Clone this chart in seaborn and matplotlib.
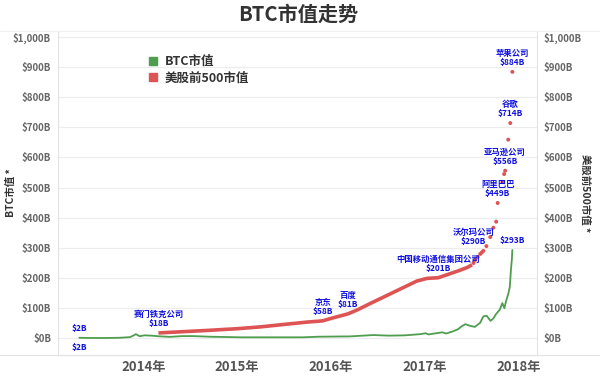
import pandas as pd
import matplotlib.pyplot as plt
import matplotlib.lines as mlines
import seaborn as sns

# BTC market cap (billion USD)
btc_dates = ['2013-04-27', '2013-06-01', '2013-08-01', '2013-10-01', '2013-11-10',
             '2013-11-25', '2013-12-03', '2013-12-18', '2014-01-05', '2014-02-01',
             '2014-03-01', '2014-04-15', '2014-06-01', '2014-07-15', '2014-09-15',
             '2014-11-15', '2015-01-15', '2015-03-15', '2015-06-15', '2015-09-15',
             '2015-11-15', '2016-01-15', '2016-03-15', '2016-06-15', '2016-08-15',
             '2016-10-15', '2016-12-15', '2017-01-05', '2017-01-15', '2017-02-15',
             '2017-03-10', '2017-03-25', '2017-04-20', '2017-05-10', '2017-05-25',
             '2017-06-08', '2017-06-25', '2017-07-15', '2017-08-05', '2017-08-17',
             '2017-08-30', '2017-09-14', '2017-09-25', '2017-10-05', '2017-10-20',
             '2017-10-30', '2017-11-07', '2017-11-14', '2017-11-22', '2017-11-28',
             '2017-12-03', '2017-12-06', '2017-12-08']
btc_values = [2, 1.3, 1.2, 2, 4,
              10, 14, 7, 10, 9,
              7, 5, 7.5, 7.5, 5.5,
              4.5, 3.5, 3.5, 3.5, 3.5,
              5.5, 6, 6.5, 11, 9,
              10, 14, 17, 13, 17,
              20, 16, 23, 30, 40,
              47, 42, 38, 52, 73,
              75, 58, 66, 80, 95,
              117, 100, 125, 147, 170,
              233, 260, 293]

# market cap of the matching US top-500 company (billion USD), dense part
spx_dates = ['2014-03-01', '2014-06-01', '2014-09-01', '2015-01-01', '2015-04-01',
             '2015-07-01', '2015-10-01', '2015-11-30', '2016-01-01', '2016-03-07',
             '2016-04-15', '2016-06-01', '2016-08-01', '2016-10-01', '2016-12-01',
             '2017-01-10', '2017-02-22', '2017-04-01', '2017-05-15', '2017-06-15',
             '2017-07-04']
spx_values = [18, 22, 26, 32, 38,
              46, 54, 58, 66, 81,
              95, 115, 140, 165, 190,
              199, 201, 212, 225, 235,
              244]

# sparse tail of the same series
tail_dates = ['2017-07-10', '2017-07-16', '2017-07-26', '2017-08-05', '2017-08-11',
              '2017-08-17', '2017-08-29', '2017-09-13', '2017-09-25', '2017-10-06',
              '2017-10-12', '2017-10-30', '2017-11-06', '2017-11-10', '2017-11-22',
              '2017-11-30', '2017-12-08']
tail_values = [250, 260, 270, 280, 285,
               290, 306, 336, 367, 387,
               449, 518, 545, 556, 659,
               714, 884]

# labelled points: (series, date, value, text, x shift in px)
labels = [
    ('btc', '2013-04-27', 2, '$2B', 0),
    ('spx', '2014-03-01', 18, '赛门铁克公司\n$18B', 0),
    ('spx', '2015-11-30', 58, '京东\n$58B', 0),
    ('spx', '2016-03-07', 81, '百度\n$81B', 0),
    ('spx', '2017-02-22', 201, '中国移动通信集团公司\n$201B', 0),
    ('spx', '2017-08-17', 290, '沃尔玛公司\n$290B', -10),
    ('btc', '2017-12-08', 293, '$293B', 0),
    ('spx', '2017-10-12', 449, '阿里巴巴\n$449B', 0),
    ('spx', '2017-11-10', 556, '亚马逊公司\n$556B', 0),
    ('spx', '2017-11-30', 714, '谷歌\n$714B', 0),
    ('spx', '2017-12-08', 884, '苹果公司\n$884B', 0),
]

year_ticks = ['2014-01-01', '2015-01-01', '2016-01-01', '2017-01-01', '2018-01-01']
year_labels = ['2014年', '2015年', '2016年', '2017年', '2018年']
y_ticks = list(range(0, 1001, 100))

GREEN = '#4f9d4f'
RED = '#de5353'
LABEL_BLUE = '#1010e0'

sns.set_theme(style="white")
plt.rcParams['font.family'] = ['Noto Sans CJK SC', 'DejaVu Sans']

btc = pd.DataFrame({'date': pd.to_datetime(btc_dates), 'value': btc_values})
spx = pd.DataFrame({'date': pd.to_datetime(spx_dates), 'value': spx_values})
tail = pd.DataFrame({'date': pd.to_datetime(tail_dates), 'value': tail_values})

fig = plt.figure(figsize=(6, 3.76), dpi=100)
ax = fig.add_axes([0.0967, 0.056, 0.7983, 0.862])

sns.lineplot(data=spx, x='date', y='value', ax=ax, color=RED, linewidth=2.6,
             solid_capstyle='butt')
sns.scatterplot(data=tail, x='date', y='value', ax=ax, color=RED, s=8,
                edgecolor='none')
sns.lineplot(data=btc, x='date', y='value', ax=ax, color=GREEN, linewidth=1.3)

ax.set_xlim(pd.Timestamp('2013-02-03'), pd.Timestamp('2018-03-14'))
ax.set_ylim(-55, 1020)
ax.set_yticks(y_ticks)
ax.set_yticklabels([f'${v:,}B' for v in y_ticks])
ax.set_xticks(pd.to_datetime(year_ticks))
ax.set_xticklabels(year_labels)
ax.set_xlabel('')
ax.set_ylabel('BTC市值 *', fontsize=7.5, fontweight='bold', color='#333333', va='center')
ax.yaxis.set_label_coords(-0.099, 0.5)
ax.grid(axis='y', color='#ececec', linewidth=0.8)
ax.grid(axis='x', visible=False)
ax.tick_params(axis='y', length=0, pad=5, labelsize=7, labelcolor='#666666')
ax.tick_params(axis='x', length=0, pad=4, labelsize=9.5, labelcolor='#555555')
for lab in ax.get_yticklabels() + ax.get_xticklabels():
    lab.set_fontweight('bold')
for side in ['left', 'right', 'bottom']:
    ax.spines[side].set_color('#e3e3e3')
    ax.spines[side].set_linewidth(0.8)
ax.spines['top'].set_visible(False)

ax2 = ax.twinx()
ax2.set_ylim(ax.get_ylim())
ax2.set_yticks(y_ticks)
ax2.set_yticklabels([f'${v:,}B' for v in y_ticks])
ax2.tick_params(axis='y', length=0, pad=5, labelsize=7, labelcolor='#666666')
for lab in ax2.get_yticklabels():
    lab.set_fontweight('bold')
ax2.set_ylabel('美股前500市值 *', fontsize=7.5, fontweight='bold', color='#333333',
               rotation=270, va='center')
ax2.yaxis.set_label_coords(1.1, 0.5)
for side in ax2.spines:
    ax2.spines[side].set_visible(False)

# point labels
for series, d, v, text, dx in labels:
    ax.annotate(text, (pd.Timestamp(d), v), xytext=(dx * 0.72, 3.5),
                textcoords='offset points', ha='center', va='bottom',
                fontsize=6, fontweight='bold', color=LABEL_BLUE, linespacing=1.05)
ax.annotate('$2B', (pd.Timestamp(btc_dates[0]), btc_values[0]), xytext=(0, -3.5),
            textcoords='offset points', ha='center', va='top',
            fontsize=6, fontweight='bold', color=LABEL_BLUE)

# legend
handles = [
    mlines.Line2D([], [], color=GREEN, marker='s', linestyle='none', markersize=6),
    mlines.Line2D([], [], color=RED, marker='s', linestyle='none', markersize=6),
]
ax.legend(handles, ['BTC市值', '美股前500市值'], loc='upper left',
          bbox_to_anchor=(0.178, 0.94), frameon=False, handlelength=0.8,
          handletextpad=0.5, labelspacing=0.25, borderaxespad=0,
          prop={'size': 9, 'weight': 'bold'}, labelcolor='#333333')

# faint separators across the whole width
fig.add_artist(mlines.Line2D([0, 1], [0.918, 0.918], color='#f0f0f0', linewidth=0.8))
fig.add_artist(mlines.Line2D([0, 1], [0.056, 0.056], color='#e3e3e3', linewidth=0.8))

fig.suptitle('BTC市值走势', x=0.497, y=0.99, fontsize=14.5, fontweight='bold',
             color='#333333')

fig.savefig('out.png', dpi=100)
